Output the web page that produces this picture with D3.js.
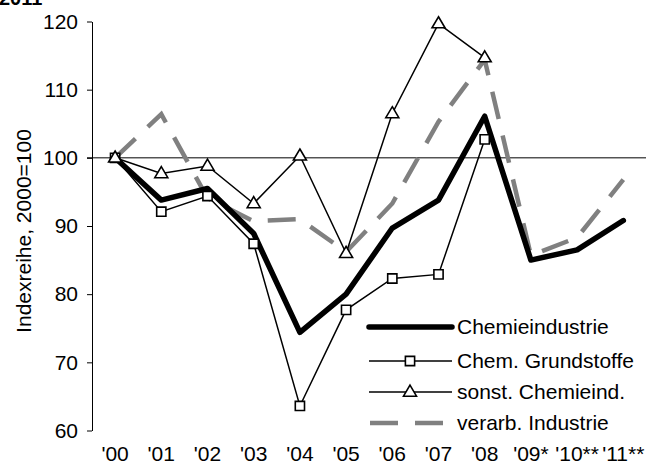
<!DOCTYPE html>
<html>
<head>
<meta charset="utf-8">
<script src="https://cdn.jsdelivr.net/npm/d3@7"></script>
<style>
  html, body { margin: 0; padding: 0; background: #fff; }
  svg { display: block; font-family: Arial, "Liberation Sans", sans-serif; }
</style>
</head>
<body>
<svg id="chart" width="646" height="470"></svg>
<script>
// Years on the x axis (* = estimate, ** = forecast)
const categories = ["'00", "'01", "'02", "'03", "'04", "'05", "'06", "'07", "'08", "'09*", "'10**", "'11**"];

// Index series, 2000 = 100
const chemieindustrie = [100, 93.8, 95.5, 88.9, 74.4, 80.0, 89.7, 93.8, 106.1, 85.0, 86.5, 90.8];
const chemGrundstoffe = [100, 92.1, 94.4, 87.4, 63.6, 77.7, 82.3, 82.9, 102.7];
const sonstChemie     = [100, 97.7, 98.8, 93.3, 100.3, 86.0, 106.5, 119.7, 114.7];
const verarbIndustrie = [100, 106.4, 94.1, 90.7, 91.0, 86.2, 93.3, 105.3, 114.4, 85.7, 88.3, 96.8];

const yTicks = [60, 70, 80, 90, 100, 110, 120];
const baseline = 100;

const legendLabels = ["Chemieindustrie", "Chem. Grundstoffe", "sonst. Chemieind.", "verarb. Industrie"];

const FONT = "Arial, 'Liberation Sans', sans-serif";
const FS = 21;

const svg = d3.select("#chart");

const x = d3.scaleBand().domain(categories).range([92, 646.4]).padding(0);
const y = d3.scaleLinear().domain([60, 120]).range([430.5, 21.5]);
const cx = c => x(c) + x.bandwidth() / 2;

// Heading, mostly above the top edge
svg.append("text")
  .attr("x", -1).attr("y", 5)
  .attr("font-size", 20).attr("font-weight", "bold")
  .text("2011");

// Reference line at index 100
svg.append("line")
  .attr("x1", 87).attr("x2", 646)
  .attr("y1", y(baseline)).attr("y2", y(baseline))
  .attr("stroke", "#000").attr("stroke-width", 1);

// Y axis
const yAxis = svg.append("g")
  .attr("transform", "translate(92,0)")
  .call(d3.axisLeft(y).tickValues(yTicks).tickSize(5).tickSizeOuter(0).tickPadding(9));
yAxis.select(".domain").attr("stroke", "#000").attr("stroke-width", 1);
yAxis.selectAll(".tick line").attr("stroke", "#000");
yAxis.selectAll(".tick text").attr("font-size", FS).attr("fill", "#000").attr("font-family", FONT);

// Y axis title
svg.append("text")
  .attr("transform", "translate(30.5,231) rotate(-90)")
  .attr("text-anchor", "middle")
  .attr("font-size", FS)
  .text("Indexreihe, 2000=100");

// X axis labels (no axis line)
const xAxis = svg.append("g")
  .attr("transform", "translate(0,446)")
  .call(d3.axisBottom(x).tickSize(0).tickPadding(0));
xAxis.select(".domain").remove();
xAxis.selectAll(".tick text").attr("font-size", FS).attr("fill", "#000").attr("font-family", FONT);

const line = d3.line()
  .x((d, i) => cx(categories[i]))
  .y(d => y(d));

const dash = "28,17";

// verarb. Industrie: grey dashed line
svg.append("path")
  .datum(verarbIndustrie)
  .attr("d", line)
  .attr("fill", "none")
  .attr("stroke", "#808080")
  .attr("stroke-width", 4.5)
  .attr("stroke-dasharray", dash);

// Chemieindustrie: thick black line
svg.append("path")
  .datum(chemieindustrie)
  .attr("d", line)
  .attr("fill", "none")
  .attr("stroke", "#000")
  .attr("stroke-width", 5.5)
  .attr("stroke-linejoin", "round")
  .attr("stroke-linecap", "round");

// Chem. Grundstoffe: thin line with square markers
svg.append("path")
  .datum(chemGrundstoffe)
  .attr("d", line)
  .attr("fill", "none")
  .attr("stroke", "#000")
  .attr("stroke-width", 1.5);

const squarePath = d3.symbol().type(d3.symbolSquare).size(85);
const trianglePath = (() => {
  const w = 13, h = 11;
  return `M0,${-h * 0.62}L${w / 2},${h * 0.38}L${-w / 2},${h * 0.38}Z`;
})();

svg.append("g").selectAll("path")
  .data(chemGrundstoffe)
  .join("path")
  .attr("transform", (d, i) => `translate(${cx(categories[i])},${y(d)})`)
  .attr("d", squarePath)
  .attr("fill", "#fff")
  .attr("stroke", "#000")
  .attr("stroke-width", 1.6);

// sonst. Chemieind.: thin line with triangle markers
svg.append("path")
  .datum(sonstChemie)
  .attr("d", line)
  .attr("fill", "none")
  .attr("stroke", "#000")
  .attr("stroke-width", 1.5);

svg.append("g").selectAll("path")
  .data(sonstChemie)
  .join("path")
  .attr("transform", (d, i) => `translate(${cx(categories[i])},${y(d)})`)
  .attr("d", trianglePath)
  .attr("fill", "#fff")
  .attr("stroke", "#000")
  .attr("stroke-width", 1.6);

// Legend
const legendRows = [327, 361, 392, 423];
const lx1 = 369, lx2 = 452, lmid = 410;
const legend = svg.append("g");

legend.append("line")
  .attr("x1", lx1).attr("x2", lx2).attr("y1", legendRows[0]).attr("y2", legendRows[0])
  .attr("stroke", "#000").attr("stroke-width", 5.5).attr("stroke-linecap", "round");

legend.append("line")
  .attr("x1", lx1).attr("x2", lx2).attr("y1", legendRows[1]).attr("y2", legendRows[1])
  .attr("stroke", "#000").attr("stroke-width", 1.5);
legend.append("path")
  .attr("transform", `translate(${lmid},${legendRows[1]})`)
  .attr("d", squarePath)
  .attr("fill", "#fff").attr("stroke", "#000").attr("stroke-width", 1.6);

legend.append("line")
  .attr("x1", lx1).attr("x2", lx2).attr("y1", legendRows[2]).attr("y2", legendRows[2])
  .attr("stroke", "#000").attr("stroke-width", 1.5);
legend.append("path")
  .attr("transform", `translate(${lmid},${legendRows[2]})`)
  .attr("d", trianglePath)
  .attr("fill", "#fff").attr("stroke", "#000").attr("stroke-width", 1.6);

legend.append("line")
  .attr("x1", 370).attr("x2", lx2).attr("y1", legendRows[3]).attr("y2", legendRows[3])
  .attr("stroke", "#808080").attr("stroke-width", 4.5).attr("stroke-dasharray", dash);

legend.selectAll("text.label")
  .data(legendLabels)
  .join("text")
  .attr("class", "label")
  .attr("x", 457)
  .attr("y", (d, i) => legendRows[i])
  .attr("dy", "0.35em")
  .attr("font-size", FS)
  .text(d => d);
</script>
</body>
</html>
